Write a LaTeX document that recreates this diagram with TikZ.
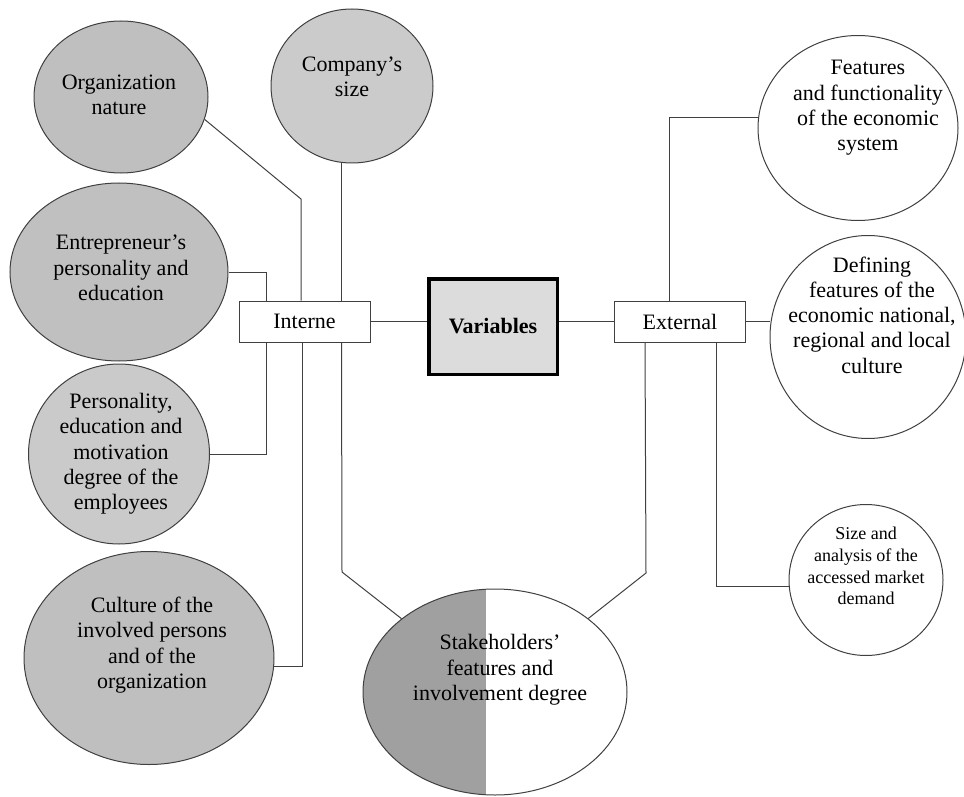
\documentclass[tikz,border=0pt]{standalone}
\usepackage{fontspec}
\setmainfont{Liberation Serif}
\usepackage{tikz}
\usetikzlibrary{shapes.geometric}

\definecolor{linegray}{HTML}{404040}
\definecolor{orggray}{HTML}{BFBFBF}
\definecolor{compgray}{HTML}{CBCBCB}
\definecolor{entregray}{HTML}{C0C0C0}
\definecolor{persgray}{HTML}{CACACA}
\definecolor{cultgray}{HTML}{BFBFBF}
\definecolor{stakegray}{HTML}{A0A0A0}
\definecolor{vargray}{HTML}{DCDCDC}

\tikzset{
  bubble/.style={draw=linegray, ellipse, inner sep=0pt, line width=1pt},
  txt/.style={align=center, inner sep=0pt, font=\fontsize{22}{25.3}\selectfont},
  smalltxt/.style={align=center, inner sep=0pt, font=\fontsize{18}{21.8}\selectfont},
  sidebox/.style={draw=linegray, fill=white, line width=1pt, minimum width=131pt, minimum height=41pt, inner sep=0pt, font=\fontsize{22}{25}\selectfont},
  link/.style={draw=linegray, line width=1pt}
}

\begin{document}
\begin{tikzpicture}[x=1pt, y=-1pt]
\useasboundingbox (0,0) rectangle (964,797);

   \node[bubble, fill=orggray, minimum width=174pt, minimum height=152pt] (org) at (121,97) {};
   \node[txt] (org-t) at (119,95) {Organization\\nature};
   \node[bubble, fill=compgray, minimum width=162pt, minimum height=154pt] (comp) at (352,86) {};
   \node[txt] (comp-t) at (352,77) {Company’s\\size};
   \node[bubble, fill=entregray, minimum width=218pt, minimum height=178pt] (entre) at (119,272) {};
   \node[txt] (entre-t) at (121,268) {Entrepreneur’s\\personality and\\education};
   \node[bubble, fill=persgray, minimum width=181pt, minimum height=180pt] (pers) at (119,454) {};
   \node[txt] (pers-t) at (121,454) {Personality,\\education and\\motivation\\degree of the\\employees};
   \node[bubble, fill=cultgray, minimum width=250pt, minimum height=213pt] (cult) at (149,658) {};
   \node[txt] (cult-t) at (152,645) {Culture of the\\involved persons\\and of the\\organization};

   \node[bubble, fill=white, minimum width=264pt, minimum height=206pt,
     path picture={\fill[stakegray] (path picture bounding box.north west) rectangle ([xshift=-9pt]path picture bounding box.south);}] (stake) at (495,692) {};
   \node[txt] (stake-t) at (500,670) {Stakeholders’\\features and\\involvement degree};

   \node[bubble, fill=white, minimum width=200pt, minimum height=185pt] (feat) at (858,128) {};
   \node[txt] (feat-t) at (868,108) {Features\\and functionality\\of the economic\\system};
   \node[bubble, fill=white, minimum width=196pt, minimum height=203pt] (def) at (868,337) {};
   \node[txt] (def-t) at (872,315) {Defining\\features of the\\economic national,\\regional and local\\culture};
   \node[bubble, fill=white, minimum width=154pt, minimum height=151pt] (size) at (866,580) {};
   \node[smalltxt] (size-t) at (866,566) {Size and\\analysis of the\\accessed market\\demand};

   \node[sidebox] (interne) at (304.5,321.5) {Interne};
   \node[sidebox] (ext) at (680,321.5) {External};
   \node[draw=black, fill=vargray, line width=3.5pt, minimum width=128.5pt, minimum height=95.5pt, inner sep=0pt,
     font=\fontsize{22}{25}\selectfont\bfseries] (var) at (493,326.5) {Variables};

   \coordinate (org-k) at (301,199);
   \coordinate (stake-l) at (342,572);
   \coordinate (stake-r) at (646,573);

   \draw[link] (org.-15) -- (org-k) -- (org-k |- interne.north);
   \draw[link] (comp.south -| interne.north west) ++(103pt,0) -- ([xshift=103pt]interne.north west);
   \draw[link] (entre.east) -| ([xshift=28pt]interne.north west);
   \draw[link] (pers.east) -| ([xshift=28pt]interne.south west);
   \draw[link] (cult.-4) -| ([xshift=64pt]interne.south west);
   \draw[link] ([xshift=103pt]interne.south west) -- (stake-l) -- (stake);

   \draw[link] (interne.east) -- (interne.east -| var.west);
   \draw[link] (var.east |- ext.west) -- (ext.west);

   \draw[link] ([xshift=55pt]ext.north west) |- (feat.174);
   \draw[link] (ext.east) -- (ext.east -| def.west);
   \draw[link] ([xshift=102pt]ext.south west) |- (size.185);
   \draw[link] ([xshift=31pt]ext.south west) -- (stake-r) -- (stake);

\end{tikzpicture}
\end{document}
